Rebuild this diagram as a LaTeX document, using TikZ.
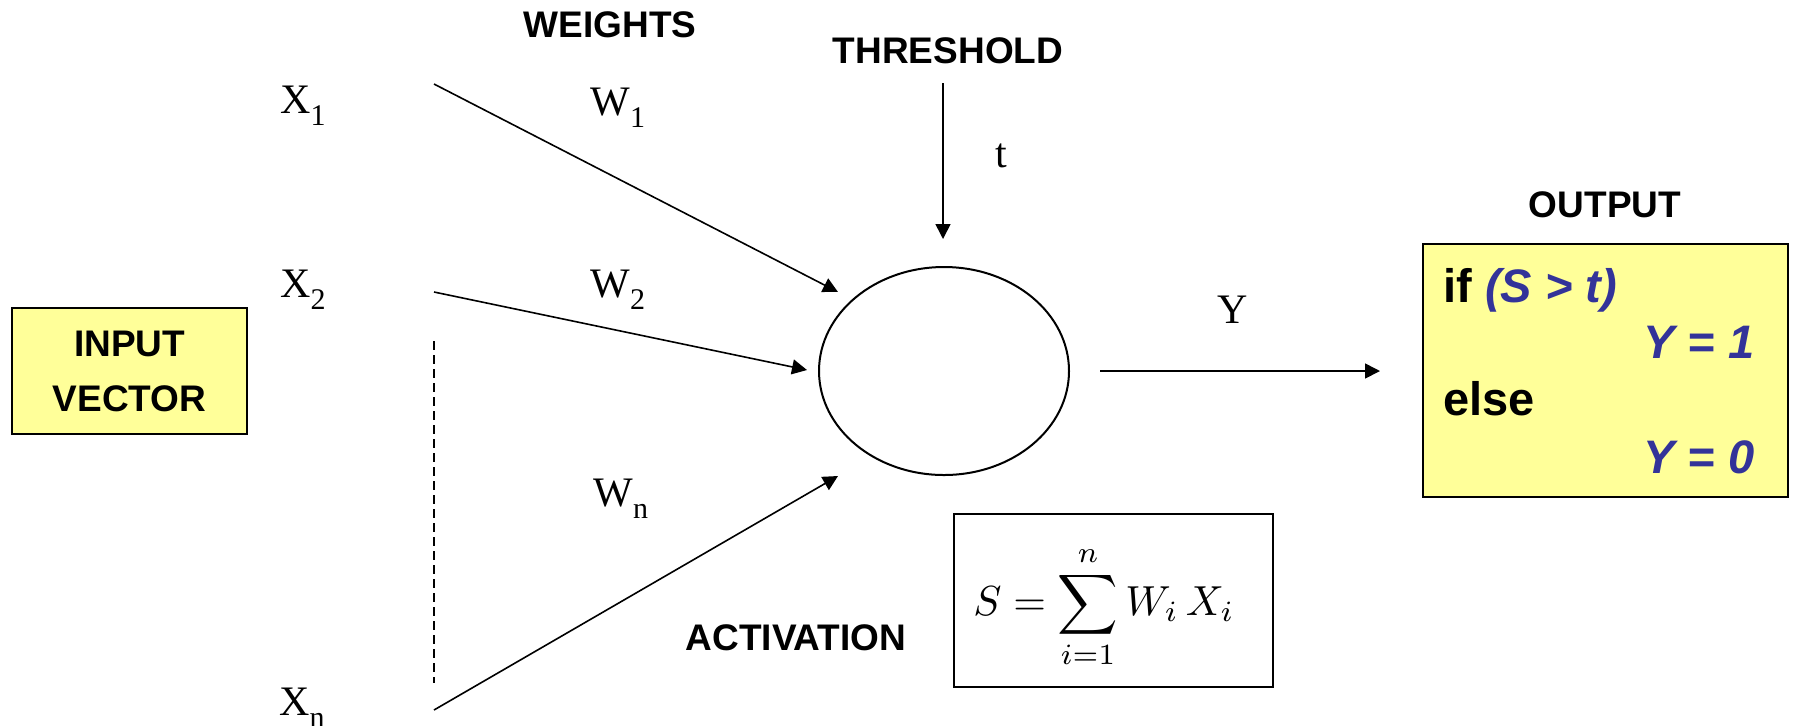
\documentclass[tikz,border=0pt]{standalone}
\usepackage{fontspec}
\setmainfont{Liberation Serif}
\setsansfont{Liberation Sans}
\usepackage{graphicx}
\usetikzlibrary{shapes.geometric,arrows.meta}
\definecolor{boxyellow}{HTML}{FFFF99}
\definecolor{codeblue}{HTML}{333399}
\tikzset{
 lbl/.style={font=\sffamily\bfseries\fontsize{18.5}{22}\selectfont, inner sep=0pt, anchor=base},
 sym/.style={font=\rmfamily\fontsize{21}{25}\selectfont, inner sep=0pt, anchor=base west},
 conn/.style={line width=0.8pt, -{Triangle[length=7.5pt,width=7.5pt]}},
 ybox/.style={draw, line width=1pt, fill=boxyellow},
 code/.style={font=\sffamily\bfseries\fontsize{23.5}{28}\selectfont, inner sep=0pt, anchor=base west},
 bluecode/.style={code, text=codeblue, font=\sffamily\bfseries\itshape\fontsize{23.5}{28}\selectfont},
 dots/.style={line width=0.7pt, dash pattern=on 4.5pt off 2.5pt},
}
\newcommand{\sbs}[1]{\raisebox{-6pt}{\fontsize{15}{18}\selectfont #1}}
\begin{document}
\begin{tikzpicture}[x=0.5pt,y=-0.5pt]
\useasboundingbox (0,0) rectangle (1793,725);
% input box
\node[ybox, minimum width=117.5pt, minimum height=63pt, inner sep=0pt, align=center,
      font=\sffamily\bfseries\fontsize{18.5}{27.5}\selectfont] (input) at (129.5,371) {INPUT\\VECTOR};
% inputs and weights
\node[sym] (x1) at (280,113) {X\sbs{1}};
\node[sym] (x2) at (280,297) {X\sbs{2}};
\node[sym] (xn) at (279,715) {X\sbs{n}};
\node[sym] (w1) at (590,115) {W\sbs{1}};
\node[sym] (w2) at (590,297) {W\sbs{2}};
\node[sym] (wn) at (593,506) {W\sbs{n}};
% labels
\node[lbl] (weights) at (610,37) {WEIGHTS};
\node[lbl] (thr) at (948,63) {THRESHOLD};
\node[sym] (t) at (995,167) {t};
\node[sym, anchor=base] (y) at (1233,323) {Y};
\node[lbl] (act) at (796,650) {ACTIVATION};
\node[lbl] (out) at (1605,217) {OUTPUT};
% neuron
\node[draw, ellipse, line width=1pt, minimum width=125pt, minimum height=104pt, inner sep=0pt] (neuron) at (944,371) {};
% connector end points
\coordinate (s1) at (434,84);  \coordinate (e1) at (838,292);
\coordinate (s2) at (434,292); \coordinate (e2) at (807,370);
\coordinate (sn) at (434,710); \coordinate (en) at (838,476);
\coordinate (d1) at (434,341); \coordinate (d2) at (434,683);
\coordinate (ts) at (943,83);  \coordinate (te) at (943,239);
\coordinate (ys) at (1100,371); \coordinate (ye) at (1380,371);
\draw[conn] (s1) -- (e1);
\draw[conn] (s2) -- (e2);
\draw[conn] (sn) -- (en);
\draw[dots] (d1) -- (d2);
\draw[conn] (ts) -- (te);
\draw[conn] (ys) -- (ye);
% activation formula
\node[draw, line width=1pt, minimum width=159.5pt, minimum height=86.5pt, inner sep=0pt] (sbox) at (1113.5,600.5) {};
\node[anchor=base west, inner sep=0pt] (formula) at (973,615) {\scalebox{2.1}{$\displaystyle S = \sum_{i=1}^{n} W_i\, X_i$}};
% output box
\node[ybox, minimum width=182.5pt, minimum height=126.5pt, inner sep=0pt] (outbox) at (1605.5,370.5) {};
\node[code] (if) at (1443,302) {if \textcolor{codeblue}{\itshape (S > t)}};
\node[bluecode] (y1) at (1643,358) {Y = 1};
\node[code] (else) at (1443,415) {else};
\node[bluecode] (y0) at (1643,473) {Y = 0};
\end{tikzpicture}
\end{document}
